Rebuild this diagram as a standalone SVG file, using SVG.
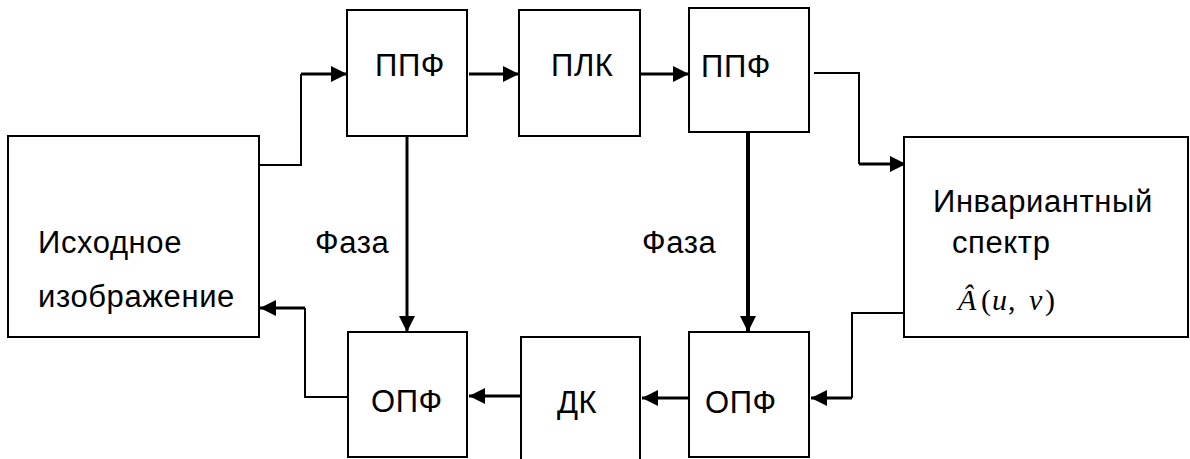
<svg xmlns="http://www.w3.org/2000/svg" width="1190" height="459" viewBox="0 0 1190 459">
<style>
.box{fill:#fff;stroke:#000;stroke-width:2}
.t{font-family:"Liberation Sans",Arial,sans-serif;font-size:31px;letter-spacing:0.6px;fill:#000}
.thin{fill:none;stroke:#000;stroke-width:2}
.thick{fill:none;stroke:#000;stroke-width:3}
.math{font-family:"Liberation Serif","Times New Roman",serif;font-size:30px;fill:#000}
</style>
<defs>
<marker id="ah" markerUnits="userSpaceOnUse" markerWidth="16" markerHeight="16" refX="16" refY="8" orient="auto" viewBox="0 0 16 16">
<path d="M0,0 L16,8 L0,16 z" fill="#000"/>
</marker>
</defs>
<rect width="1190" height="459" fill="#fff"/>
<g id="connectors">
<path class="thin" d="M259,165 H301 V74"/>
<path class="thick" d="M301,74 H347" marker-end="url(#ah)"/>
<path class="thick" d="M469,74 H519" marker-end="url(#ah)"/>
<path class="thick" d="M640,74 H689" marker-end="url(#ah)"/>
<path class="thin" d="M814,73 H859 V164"/>
<path class="thick" d="M859,164 H906" marker-end="url(#ah)"/>
<path class="thick" d="M407,136 V332" marker-end="url(#ah)"/>
<path class="thick" style="stroke-width:4" d="M748,132 V332" marker-end="url(#ah)"/>
<path class="thin" d="M905,313 H852 V398"/>
<path class="thick" d="M852,398 H811" marker-end="url(#ah)"/>
<path class="thick" d="M689,398 H642" marker-end="url(#ah)"/>
<path class="thick" d="M521,396 H469" marker-end="url(#ah)"/>
<path class="thin" d="M348,397 H305 V308"/>
<path class="thick" d="M305,308 H260" marker-end="url(#ah)"/>
</g>
<g id="src">
<rect class="box" x="8" y="136" width="251" height="201"/>
<text class="t" x="38" y="253">Исходное</text>
<text class="t" x="38" y="307">изображение</text>
</g>
<g id="ppf1">
<rect class="box" x="347" y="10" width="120" height="126"/>
<text class="t" x="375" y="76">ППФ</text>
</g>
<g id="plk">
<rect class="box" x="519" y="10" width="121" height="126"/>
<text class="t" x="551" y="76">ПЛК</text>
</g>
<g id="ppf2">
<rect class="box" x="689" y="8" width="120" height="124"/>
<text class="t" x="701" y="77">ППФ</text>
</g>
<g id="inv">
<rect class="box" x="904" y="137" width="284" height="200"/>
<text class="t" x="933" y="212">Инвариантный</text>
<text class="t" x="952" y="253">спектр</text>
<text class="math" y="310"><tspan x="958" font-style="italic">Â</tspan><tspan x="981">(</tspan><tspan x="992" font-style="italic">u</tspan><tspan x="1008">,</tspan><tspan x="1029" font-style="italic">v</tspan><tspan x="1045">)</tspan></text>
</g>
<g id="opf1">
<rect class="box" x="348" y="332" width="119" height="125"/>
<text class="t" x="371" y="412">ОПФ</text>
</g>
<g id="dk">
<rect class="box" x="521" y="337" width="119" height="125"/>
<text class="t" x="557" y="413">ДК</text>
</g>
<g id="opf2">
<rect class="box" x="689" y="332" width="120" height="125"/>
<text class="t" x="705" y="413">ОПФ</text>
</g>
<g id="labels">
<text class="t" x="315" y="253">Фаза</text>
<text class="t" x="642" y="253">Фаза</text>
</g>
</svg>
